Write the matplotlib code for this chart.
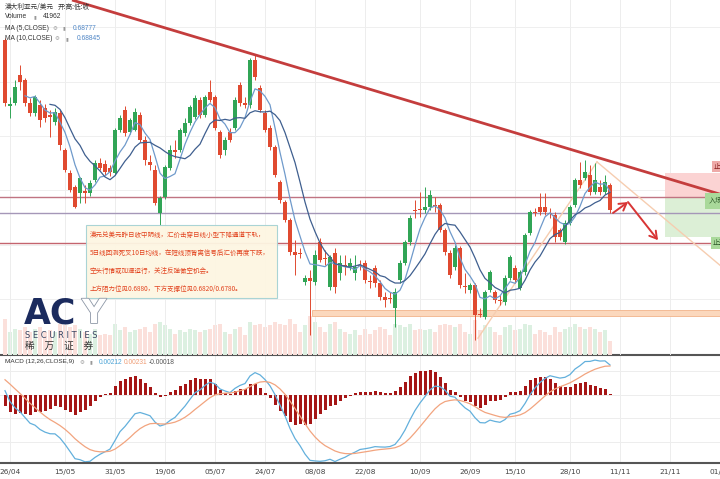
import numpy as np
import pandas as pd
import matplotlib
matplotlib.use("Agg")
import matplotlib.pyplot as plt
from matplotlib.patches import Rectangle
import matplotlib.patheffects as pe

plt.rcParams['font.family'] = ['DejaVu Sans', 'Noto Sans CJK SC']
CJK = ['Noto Sans CJK SC', 'DejaVu Sans']
LAT = ['Liberation Sans', 'DejaVu Sans']

# daily AUD/USD candles
opens = [0.7111, 0.7014, 0.7019, 0.7060, 0.7052, 0.7019, 0.7004, 0.7016, 0.7011, 0.7001,
         0.6991, 0.7004, 0.6950, 0.6916, 0.6895, 0.6886, 0.6889, 0.6886, 0.6905, 0.6930,
         0.6929, 0.6923, 0.6916, 0.6979, 0.7008, 0.6976, 0.6979, 0.7001, 0.6964, 0.6932,
         0.6920, 0.6857, 0.6880, 0.6923, 0.6950, 0.6950, 0.6974, 0.6989, 0.6998, 0.7023,
         0.7001, 0.7035, 0.7027, 0.6976, 0.6950, 0.6976, 0.6982, 0.7045, 0.7019, 0.7016,
         0.7082, 0.7041, 0.7004, 0.6982, 0.6954, 0.6902, 0.6873, 0.6847, 0.6800, 0.6798,
         0.6755, 0.6761, 0.6755, 0.6814, 0.6791, 0.6748, 0.6798, 0.6769, 0.6780, 0.6777,
         0.6769, 0.6780, 0.6783, 0.6757, 0.6776, 0.6754, 0.6734, 0.6732, 0.6717, 0.6758,
         0.6783, 0.6814, 0.6861, 0.6863, 0.6861, 0.6866, 0.6869, 0.6869, 0.6832, 0.6798,
         0.6777, 0.6805, 0.6750, 0.6744, 0.6751, 0.6708, 0.6704, 0.6744, 0.6741, 0.6729,
         0.6726, 0.6761, 0.6776, 0.6747, 0.6770, 0.6827, 0.6858, 0.6866, 0.6866, 0.6857,
         0.6854, 0.6832, 0.6814, 0.6842, 0.6869, 0.6905, 0.6908, 0.6913, 0.6888, 0.6895,
         0.6888, 0.6898]
highs = [0.7114, 0.7027, 0.7052, 0.7074, 0.7055, 0.7026, 0.7030, 0.7023, 0.7017, 0.7008,
         0.7011, 0.7008, 0.6952, 0.6920, 0.6898, 0.6910, 0.6898, 0.6905, 0.6935, 0.6938,
         0.6935, 0.6927, 0.6982, 0.7001, 0.7014, 0.6997, 0.7011, 0.7005, 0.6970, 0.6942,
         0.6927, 0.6882, 0.6927, 0.6957, 0.6964, 0.6982, 0.6997, 0.7016, 0.7030, 0.7027,
         0.7030, 0.7052, 0.7030, 0.6979, 0.6969, 0.6982, 0.7027, 0.7049, 0.7027, 0.7085,
         0.7089, 0.7045, 0.7008, 0.6986, 0.6957, 0.6905, 0.6876, 0.6850, 0.6817, 0.6805,
         0.6766, 0.6773, 0.6803, 0.6820, 0.6803, 0.6795, 0.6805, 0.6795, 0.6795, 0.6791,
         0.6795, 0.6788, 0.6788, 0.6766, 0.6780, 0.6758, 0.6741, 0.6741, 0.6747, 0.6788,
         0.6817, 0.6854, 0.6876, 0.6888, 0.6895, 0.6891, 0.6880, 0.6872, 0.6835, 0.6803,
         0.6810, 0.6808, 0.6769, 0.6754, 0.6754, 0.6717, 0.6744, 0.6773, 0.6744, 0.6736,
         0.6766, 0.6795, 0.6780, 0.6773, 0.6827, 0.6861, 0.6864, 0.6886, 0.6886, 0.6864,
         0.6858, 0.6835, 0.6847, 0.6869, 0.6908, 0.6932, 0.6935, 0.6927, 0.6930, 0.6905,
         0.6913, 0.6901]
lows = [0.7014, 0.6997, 0.7016, 0.7038, 0.7014, 0.6999, 0.6999, 0.6983, 0.6991, 0.6969,
        0.6986, 0.6950, 0.6917, 0.6888, 0.6864, 0.6872, 0.6872, 0.6882, 0.6902, 0.6920,
        0.6913, 0.6911, 0.6913, 0.6976, 0.6970, 0.6973, 0.6977, 0.6961, 0.6927, 0.6920,
        0.6869, 0.6839, 0.6877, 0.6920, 0.6938, 0.6947, 0.6970, 0.6986, 0.6995, 0.6997,
        0.6998, 0.7020, 0.6979, 0.6938, 0.6942, 0.6961, 0.6979, 0.7014, 0.7011, 0.7011,
        0.7052, 0.7005, 0.6976, 0.6950, 0.6910, 0.6872, 0.6844, 0.6795, 0.6766, 0.6791,
        0.6751, 0.6678, 0.6751, 0.6785, 0.6780, 0.6744, 0.6739, 0.6758, 0.6766, 0.6773,
        0.6758, 0.6773, 0.6754, 0.6747, 0.6748, 0.6729, 0.6719, 0.6725, 0.6689, 0.6754,
        0.6780, 0.6810, 0.6850, 0.6851, 0.6857, 0.6861, 0.6858, 0.6829, 0.6795, 0.6761,
        0.6773, 0.6747, 0.6739, 0.6739, 0.6670, 0.6704, 0.6701, 0.6741, 0.6725, 0.6722,
        0.6722, 0.6758, 0.6754, 0.6744, 0.6766, 0.6825, 0.6852, 0.6854, 0.6854, 0.6850,
        0.6814, 0.6817, 0.6811, 0.6839, 0.6866, 0.6894, 0.6905, 0.6883, 0.6885, 0.6883,
        0.6885, 0.6857]
closes = [0.7019, 0.7017, 0.7042, 0.7049, 0.7019, 0.7004, 0.7027, 0.6994, 0.6997, 0.6998,
          0.7005, 0.6957, 0.6920, 0.6891, 0.6866, 0.6908, 0.6886, 0.6901, 0.6930, 0.6923,
          0.6917, 0.6917, 0.6979, 0.6997, 0.6974, 0.6994, 0.7005, 0.6964, 0.6935, 0.6927,
          0.6872, 0.6879, 0.6925, 0.6950, 0.6947, 0.6979, 0.6989, 0.7013, 0.7026, 0.7001,
          0.7027, 0.7023, 0.6982, 0.6942, 0.6964, 0.6964, 0.7023, 0.7019, 0.7016, 0.7082,
          0.7057, 0.7008, 0.6979, 0.6954, 0.6913, 0.6876, 0.6847, 0.6800, 0.6795, 0.6797,
          0.6761, 0.6757, 0.6795, 0.6788, 0.6789, 0.6792, 0.6748, 0.6783, 0.6777, 0.6783,
          0.6777, 0.6779, 0.6758, 0.6755, 0.6754, 0.6734, 0.6729, 0.6730, 0.6741, 0.6783,
          0.6814, 0.6850, 0.6860, 0.6861, 0.6866, 0.6883, 0.6867, 0.6832, 0.6800, 0.6766,
          0.6805, 0.6751, 0.6748, 0.6751, 0.6707, 0.6707, 0.6741, 0.6770, 0.6729, 0.6728,
          0.6761, 0.6792, 0.6758, 0.6770, 0.6825, 0.6858, 0.6857, 0.6858, 0.6858, 0.6855,
          0.6822, 0.6822, 0.6842, 0.6866, 0.6905, 0.6898, 0.6917, 0.6888, 0.6905, 0.6888,
          0.6902, 0.6861]
volumes = [110, 70, 80, 75, 85, 70, 80, 85, 70, 75, 70, 95, 90, 85, 90, 80, 70, 65, 80, 60,
           65, 60, 95, 75, 85, 70, 75, 80, 85, 70, 95, 100, 90, 80, 65, 75, 70, 80, 75, 70,
           75, 80, 90, 95, 70, 65, 80, 85, 60, 100, 90, 95, 85, 90, 100, 95, 90, 110, 95, 70,
           90, 120, 100, 85, 70, 95, 100, 80, 70, 65, 75, 60, 80, 65, 75, 85, 80, 60, 95, 90,
           85, 95, 75, 80, 75, 80, 70, 90, 95, 90, 85, 95, 70, 65, 105, 75, 90, 85, 70, 60,
           85, 90, 75, 80, 95, 90, 65, 75, 70, 60, 85, 70, 80, 85, 95, 85, 80, 85, 80, 70,
           75, 42]
volumes = [v * 1000 for v in volumes]

date_ticks = [1, 12, 22, 32, 42, 52, 62, 72, 83, 93, 102, 113, 123, 133, 143]
date_labels = ['26/04', '15/05', '31/05', '19/06', '05/07', '24/07', '08/08', '22/08',
               '10/09', '26/09', '15/10', '28/10', '11/11', '21/11', '01/12']

# drawn analysis objects (bar index, price)
trend_line = [(13.4, 0.7170), (143.5, 0.68835)]
rise_line = [(94.6, 0.6673), (118.4, 0.6932)]
fall_line = [(118.4, 0.6932), (143.5, 0.6777)]
level_lines = [(0.6880, '#c07482'), (0.6857, '#a597b8'), (0.6813, '#c4646e')]
support_band = (61.4, 0.6705, 0.6714)
stop_zone = (132.0, 0.6880, 0.6916)
target_zone = (132.0, 0.6822, 0.6880)
path_arrow = [(121.6, 0.6857), (124.6, 0.6873), (130.6, 0.6817)]
macd_seed = (0.7150, 0.7135, 0.0015)   # ema12, ema26, dea before the first bar

W, H = 720, 479
GREEN, RED = '#31a556', '#e04a30'

n = len(closes)
idx = np.arange(n)
o = np.array(opens); c = np.array(closes); hi = np.array(highs); lo = np.array(lows)
up = c >= o
cols = np.where(up, GREEN, RED)

ma5 = pd.Series(c).rolling(5).mean()
ma10 = pd.Series(c).rolling(10).mean()

f, s, d = macd_seed
dif, dea = [], []
for px in c:
    f += (px - f) * 2 / 13
    s += (px - s) * 2 / 27
    d += ((f - s) - d) * 2 / 10
    dif.append(f - s)
    dea.append(d)
dif = np.array(dif); dea = np.array(dea)
hist = dif - dea

fig = plt.figure(figsize=(7.2, 4.79), dpi=100)
ax1 = fig.add_axes([0, 1 - 355 / H, 1, 355 / H])
ax2 = fig.add_axes([0, 1 - 463 / H, 1, 108 / H])
axv = ax1.twinx()
axv.set_zorder(0)
ax1.set_zorder(1)
ax1.patch.set_visible(False)

# volume
vcols = np.where(up, '#dcf0e1', '#fbe0db')
axv.bar(idx, volumes, width=0.8, color=vcols)
axv.set_ylim(0, max(volumes) * 9.0)
axv.axis('off')

# grid
for t in date_ticks:
    ax1.axvline(t, color='#ededed', lw=0.7, zorder=0)
    ax2.axvline(t, color='#ededed', lw=0.7, zorder=0)
for gp in [0.713, 0.705, 0.697, 0.689, 0.681, 0.673]:
    ax1.axhline(gp, color='#efefef', lw=0.7, zorder=0)

# candles
ax1.vlines(idx, lo, hi, colors=cols, lw=0.7, zorder=3)
ax1.bar(idx, np.maximum(np.abs(c - o), 0.00008), bottom=np.minimum(o, c),
        width=0.62, color=cols, zorder=3)
ax1.plot(idx, ma5, color='#6f9acb', lw=0.9, zorder=4)
ax1.plot(idx, ma10, color='#3f5f8f', lw=0.9, zorder=4)

# analysis drawings
for lvl, lc in level_lines:
    ax1.axhline(lvl, color=lc, lw=1.0, zorder=2)
x0, b0, b1 = support_band
ax1.add_patch(Rectangle((x0, b0), 150, b1 - b0, facecolor='#fbd8bd',
                        edgecolor='#f2b48a', lw=0.6, zorder=2))
x0, z0, z1 = stop_zone
ax1.add_patch(Rectangle((x0, z0), 20, z1 - z0, facecolor='#fbd3d3', edgecolor='none', zorder=1))
x0, z0, z1 = target_zone
ax1.add_patch(Rectangle((x0, z0), 20, z1 - z0, facecolor='#dcefd6', edgecolor='none', zorder=1))

(xa, ya), (xb, yb) = rise_line
ax1.plot([xa, xb], [ya, yb], color='#f6cdb0', lw=1.0, zorder=2)
(xa, ya), (xb, yb) = fall_line
ax1.plot([xa, xb], [ya, yb], color='#f6cdb0', lw=1.0, zorder=2)
(xa, ya), (xb, yb) = trend_line
ax1.plot([xa, xb], [ya, yb], color='#c43d3d', lw=2.0, zorder=5, solid_capstyle='butt')

for (xs, ys), (xe, ye) in zip(path_arrow[:-1], path_arrow[1:]):
    ax1.annotate('', xy=(xe, ye), xytext=(xs, ys),
                 arrowprops=dict(arrowstyle='->,head_length=0.5,head_width=0.3',
                                 color='#d83535', lw=1.4, shrinkA=0, shrinkB=0), zorder=6)

# right-side level tags (cut by the edge, as in the source)
ax1.text(141.8, 0.6925, '止损', fontsize=5, color='#8a2020', family=CJK, va='center',
         bbox=dict(boxstyle='square,pad=0.25', fc='#eeaaa8', ec='none'), zorder=7)
ax1.text(140.8, 0.6875, '入场', fontsize=5, color='#2f5a2a', family=CJK, va='center',
         bbox=dict(boxstyle='square,pad=0.6', fc='#a9d99a', ec='none'), zorder=7)
ax1.text(141.6, 0.6813, '止盈', fontsize=5, color='#2f5a2a', family=CJK, va='center',
         bbox=dict(boxstyle='square,pad=0.25', fc='#a9d99a', ec='none'), zorder=7)

ax1.set_xlim(-1, 143)
ax1.set_ylim(0.66482, 0.7170)
ax1.axis('off')

# commentary box
ax1.add_patch(Rectangle((86 / W, 1 - 298 / 355), 191 / W, 73 / 355, transform=ax1.transAxes,
                        facecolor='#fdf6e2', edgecolor='#a6d2d4', lw=0.8, alpha=0.95, zorder=8))
notes = ['澳元兑美元昨日收中阴线，汇价击穿日线小型下降通道下轨，',
         '5日线回测死叉10日均线，在短线顶背离信号后汇价再度下跌，',
         '空头行情或加速运行，关注反弹做空机会。',
         '上方阻力位见0.6880，下方支撑位见0.6820/0.6780。']
for k, line in enumerate(notes):
    ax1.text(90 / W, 1 - (235 + 18 * k) / 355, line, transform=ax1.transAxes, fontsize=4.7,
             color='#e2431e', family=CJK, va='center', zorder=9)

# header texts
def head(ax, px, py, txt, color='#333333', fam=LAT, size=4.8, h=355):
    ax.text(px / W, 1 - py / h, txt, transform=ax.transAxes, fontsize=size, color=color,
            family=fam, va='center', zorder=9)

head(ax1, 5, 7, '澳大利亚元/美元', fam=CJK)
head(ax1, 58, 7, '开:高:低:收', fam=CJK)
head(ax1, 5, 17, 'Volume')
head(ax1, 33, 17, '▮', color='#999999', size=3.6)
head(ax1, 43, 17, '41962')
head(ax1, 5, 28, 'MA (5,CLOSE)')
head(ax1, 53, 28, '⚙', color='#999999', fam=['DejaVu Sans'], size=4)
head(ax1, 63, 28, '▮', color='#999999', size=3.6)
head(ax1, 73, 28, '0.68777', color='#4f86c6')
head(ax1, 5, 39, 'MA (10,CLOSE)')
head(ax1, 55, 39, '⚙', color='#999999', fam=['DejaVu Sans'], size=4)
head(ax1, 66, 39, '▮', color='#999999', size=3.6)
head(ax1, 77, 39, '0.68845', color='#4f86c6')

# logo
fig.text(24 / W, 1 - 323 / H, 'AC', fontsize=25, fontweight='heavy', color='#1b2b5e')
fig.text(82 / W, 1 - 323 / H, 'Y', fontsize=24, fontweight='heavy', color='white',
         path_effects=[pe.withStroke(linewidth=1.2, foreground='#8d97a6')])
fig.text(25 / W, 1 - 336 / H, 'S E C U R I T I E S', fontsize=6, color='#3b4663', va='center')
fig.text(25 / W, 1 - 346 / H, '稀　万　证　券', fontsize=7, color='#333333', va='center',
         family=CJK)

# MACD panel
ax2.plot(idx, dif, color='#63b0dc', lw=0.9)
ax2.plot(idx, dea, color='#f2a47f', lw=0.9)
hb = np.where(np.abs(hist) < 0.0001, np.sign(hist + 1e-12) * 0.0001, hist)
ax2.bar(idx, hb, width=0.6, color='#a51616')
for gv in [0.002, 0.0, -0.002, -0.004]:
    ax2.axhline(gv, color='#ededed', lw=0.7, zorder=0)
lo2 = min(dif.min(), dea.min(), hist.min())
hi2 = max(dif.max(), dea.max(), hist.max())
ax2.set_ylim(lo2 - 0.0001, hi2 + (hi2 - lo2) * 0.05)
ax2.set_xlim(-1, 143)
ax2.set_yticks([])
ax2.set_xticks(date_ticks)
ax2.set_xticklabels(date_labels, fontsize=5.3, color='#444444')
ax2.tick_params(axis='x', length=0, pad=4)
for side in ['left', 'right']:
    ax2.spines[side].set_visible(False)
for side in ['top', 'bottom']:
    ax2.spines[side].set_color('#555555')
    ax2.spines[side].set_linewidth(1.5)

head(ax2, 5, 7, 'MACD (12,26,CLOSE,9)', size=4.6, h=108)
head(ax2, 80, 7, '⚙', color='#999999', fam=['DejaVu Sans'], size=4, h=108)
head(ax2, 89, 7, '▮', color='#999999', size=3.6, h=108)
head(ax2, 99, 7, '0.00212', color='#4aa3d6', h=108)
head(ax2, 124, 7, '0.00231', color='#ef9c74', h=108)
head(ax2, 149, 7, '-0.00018', color='#555555', h=108)

fig.savefig('out.png', dpi=100)
